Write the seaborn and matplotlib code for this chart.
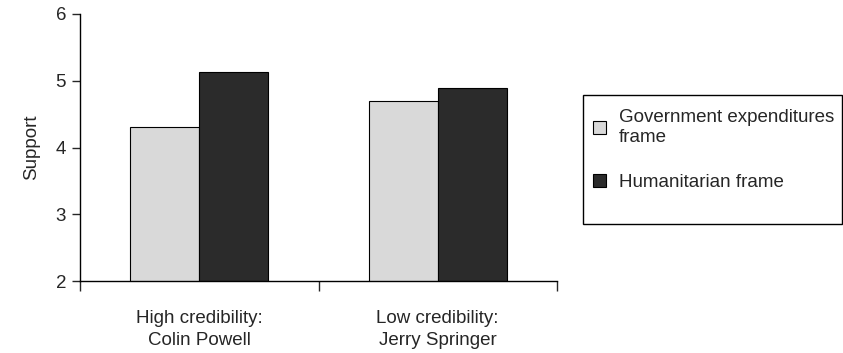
import matplotlib
matplotlib.use("Agg")
import matplotlib.pyplot as plt
import seaborn as sns
import pandas as pd
from matplotlib.patches import Patch, Rectangle

categories = ["High credibility:\nColin Powell", "Low credibility:\nJerry Springer"]
frames = ["Government expenditures\nframe", "Humanitarian frame"]
gov_values = [4.30, 4.70]
hum_values = [5.13, 4.89]
colors = ["#d9d9d9", "#2b2b2b"]

df = pd.DataFrame({
    "cat": categories * 2,
    "frame": [frames[0]] * 2 + [frames[1]] * 2,
    "support": gov_values + hum_values,
})

sns.set_style("white")
plt.rcParams["font.family"] = ["Liberation Sans", "DejaVu Sans"]
FS = 13.5

fig = plt.figure(figsize=(8.43, 3.53), dpi=100)
ax = fig.add_axes([80 / 843, 1 - 281 / 353, (557 - 80) / 843, (281 - 14) / 353])

sns.barplot(data=df, x="cat", y="support", hue="frame", palette=colors,
            width=0.58, dodge=True, edgecolor="black", linewidth=0.8,
            ax=ax, legend=False, bottom=0)

ax.set_ylim(2, 6)
ax.set_xlim(-0.5, 1.5)
ax.set_yticks([2, 3, 4, 5, 6])
ax.tick_params(axis="y", labelsize=FS, length=6, width=1, direction="out", left=True, pad=4)
ax.set_xticks([0, 1])
ax.set_xticklabels(categories, fontsize=FS, linespacing=1.35)
ax.tick_params(axis="x", length=0, pad=21)
ax.set_xticks([-0.5, 0.5, 1.5], minor=True)
ax.tick_params(axis="x", which="minor", length=7, width=1, direction="out", bottom=True)
ax.set_xlabel("")
ax.set_ylabel("Support", fontsize=FS, labelpad=11)
for s in ["top", "right"]:
    ax.spines[s].set_visible(False)
for s in ["left", "bottom"]:
    ax.spines[s].set_color("black")
    ax.spines[s].set_linewidth(1)

# legend box
fig.add_artist(Rectangle((583 / 843, 1 - 224 / 353), (842 - 583) / 843, (224 - 95) / 353,
                         transform=fig.transFigure, facecolor="white",
                         edgecolor="black", linewidth=1))
handles = [Patch(facecolor=c, edgecolor="black", linewidth=0.8) for c in colors]
leg = fig.legend(handles, frames, loc="upper left",
                 bbox_to_anchor=(583 / 843, 1 - 99 / 353), fontsize=FS,
                 frameon=False,
                 handlelength=0.65, handleheight=0.65, handletextpad=0.7,
                 labelspacing=1.5, borderpad=0.55, borderaxespad=0)

fig.savefig("out.png", dpi=100)
